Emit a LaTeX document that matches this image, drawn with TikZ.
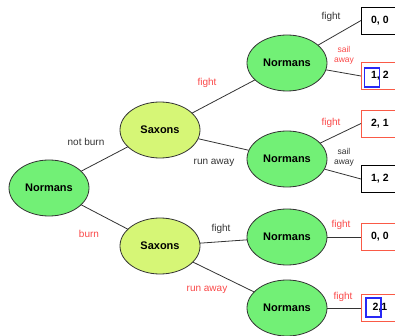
\documentclass[tikz,border=0pt]{standalone}
\usepackage{fontspec}
\setmainfont{Liberation Sans}
\usetikzlibrary{shapes.geometric}

\definecolor{normgreen}{RGB}{114,240,118}
\definecolor{saxgreen}{RGB}{214,246,118}
\definecolor{edgegray}{RGB}{51,51,51}
\definecolor{movered}{RGB}{250,72,72}
\definecolor{boxred}{RGB}{250,90,70}
\definecolor{markblue}{RGB}{40,40,245}

\begin{document}
\begin{tikzpicture}[x=1pt,y=-1pt,
	player/.style={ellipse,draw=edgegray,line width=0.8pt,minimum width=80pt,minimum height=56pt,inner sep=0pt,font=\fontsize{11}{13}\selectfont\bfseries},
	normans/.style={player,fill=normgreen},
	saxons/.style={player,fill=saxgreen},
	payoff/.style={rectangle,draw=black,line width=0.8pt,minimum width=37pt,minimum height=27pt,inner sep=0pt,anchor=west,font=\fontsize{10.5}{12}\selectfont\bfseries},
	pick/.style={rectangle,draw=markblue,line width=1.5pt,minimum width=15pt,minimum height=19pt,inner sep=0pt},
	edge/.style={draw=edgegray,line width=0.8pt},
	move/.style={font=\fontsize{10}{12}\selectfont,text=edgegray},
	redmove/.style={move,text=movered},
	twoline/.style={align=center,font=\fontsize{8.5}{10}\selectfont}]
	\useasboundingbox (0,0) rectangle (395,336);

	% players
	\node [normans] (root) at (49,188) {Normans};
	\node [saxons] (sx1) at (160,130) {Saxons};
	\node [saxons] (sx2) at (160,246) {Saxons};
	\node [normans] (nm1) at (287,63) {Normans};
	\node [normans] (nm2) at (287,159) {Normans};
	\node [normans] (nm3) at (287,237) {Normans};
	\node [normans] (nm4) at (287,308) {Normans};

	% payoffs
	\node [payoff] (p1) at (361,20.5) {0, 0};
	\node [payoff,draw=boxred] (p2) at (361,76) {1, 2};
	\node [payoff,draw=boxred] (p3) at (361,123.5) {2, 1};
	\node [payoff] (p4) at (361,179) {1, 2};
	\node [payoff,draw=boxred] (p5) at (361,237) {0, 0};
	\node [payoff,draw=boxred] (p6) at (361,308) {2,1};
	\node [pick] (m2) at (372,77.5) {};
	\node [pick] (m6) at (373.5,307.5) {};

	% branches
	\draw [edge] (root) -- (sx1);
	\draw [edge] (root) -- (sx2);
	\draw [edge] (sx1) -- (nm1);
	\draw [edge] (sx1) -- (nm2);
	\draw [edge] (sx2) -- (nm3);
	\draw [edge] (sx2) -- (nm4);
	\draw [edge] (nm1) -- (p1.west);
	\draw [edge] (nm1) -- (p2.west);
	\draw [edge] (nm2) -- (p3.west);
	\draw [edge] (nm2) -- (p4.west);
	\draw [edge] (nm3) -- (p5.west);
	\draw [edge] (nm4) -- (p6.west);

	% moves
	\node [move] (l1) at (86,142) {not burn};
	\node [redmove] (l2) at (89,234) {burn};
	\node [redmove] (l3) at (207,83) {fight};
	\node [move] (l4) at (214,163) {run away};
	\node [move] (l5) at (221,229) {fight};
	\node [redmove] (l6) at (207,290) {run away};
	\node [move] (l7) at (331,17) {fight};
	\node [redmove,twoline] (l8) at (344,55) {sail\\away};
	\node [redmove] (l9) at (331,123) {fight};
	\node [move,twoline] (l10) at (344,157) {sail\\away};
	\node [redmove] (l11) at (341,225) {fight};
	\node [redmove] (l12) at (343,297) {fight};
\end{tikzpicture}
\end{document}
